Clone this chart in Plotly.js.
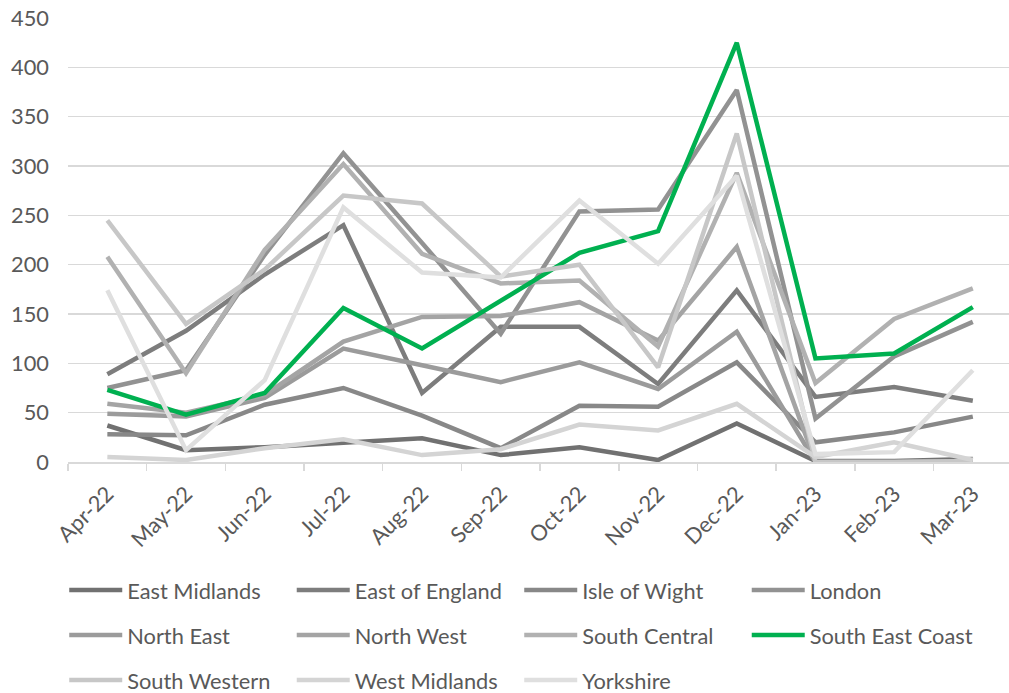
<!DOCTYPE html>
<html>
<head>
<meta charset="utf-8">
<script src="https://cdn.plot.ly/plotly-3.0.1.min.js"></script>
<style>
  html, body { margin: 0; padding: 0; background: #ffffff; }
  #chart { width: 1009px; height: 693px; }
</style>
</head>
<body>
<div id="chart"></div>
<script>
// Monthly counts per region, Apr-22 to Mar-23
const months = ["Apr-22", "May-22", "Jun-22", "Jul-22", "Aug-22", "Sep-22",
                "Oct-22", "Nov-22", "Dec-22", "Jan-23", "Feb-23", "Mar-23"];

const eastMidlands   = [37, 12, 15, 20, 24, 7, 15, 2, 39, 1, 1, 3];
const eastOfEngland  = [89, 133, 190, 240, 70, 137, 137, 79, 174, 66, 76, 62];
const isleOfWight    = [28, 27, 58, 75, 47, 14, 57, 56, 101, 20, 30, 46];
const london         = [75, 93, 210, 313, 222, 130, 254, 256, 377, 44, 107, 142];
const northEast      = [49, 46, 65, 115, 98, 81, 101, 74, 132, 0, 0, 1];
const northWest      = [59, 50, 68, 122, 147, 148, 162, 123, 218, 0, 0, 1];
const southCentral   = [208, 90, 215, 302, 211, 181, 184, 117, 293, 80, 145, 176];
const southEastCoast = [73, 48, 70, 156, 115, 163, 212, 234, 425, 105, 110, 157];
const southWestern   = [245, 140, 195, 270, 262, 188, 200, 96, 333, 0, 0, 1];
const westMidlands   = [5, 2, 14, 23, 7, 13, 38, 32, 59, 5, 20, 2];
const yorkshire      = [174, 12, 83, 258, 192, 187, 265, 201, 290, 8, 10, 93];

const regionNames = ["East Midlands", "East of England", "Isle of Wight", "London",
                     "North East", "North West", "South Central", "South East Coast",
                     "South Western", "West Midlands", "Yorkshire"];
const regionValues = [eastMidlands, eastOfEngland, isleOfWight, london,
                      northEast, northWest, southCentral, southEastCoast,
                      southWestern, westMidlands, yorkshire];

const lineColours = ["#717171", "#7d7d7d", "#888888", "#929292",
                     "#9b9b9b", "#a4a4a4", "#b1b1b1", "#00b050",
                     "#c7c7c7", "#d4d4d4", "#dfdfdf"];
// legend row for each region (four entries per row)
const legendRows = ["legend", "legend", "legend", "legend",
                    "legend2", "legend2", "legend2", "legend2",
                    "legend3", "legend3", "legend3"];

const FONT = "Lato, 'Liberation Sans', Arial, sans-serif";
const TEXT = "#595959";
const GRID = "#d9d9d9";
const FS = 21.8;

const traces = regionNames.map((name, i) => ({
  type: "scatter",
  mode: "lines",
  name: name,
  x: months,
  y: regionValues[i],
  line: { color: lineColours[i], width: 4.5 },
  legend: legendRows[i]
}));

const plotLeft = 67.6, plotBottom = 461.7, plotTop = 18;
const plotH = plotBottom - plotTop;
function rowY(py) { return (plotBottom - py) / plotH; }

function legendRow(py) {
  return {
    orientation: "h",
    x: -0.004, xanchor: "left",
    y: rowY(py), yanchor: "middle",
    bgcolor: "rgba(0,0,0,0)",
    borderwidth: 0,
    itemwidth: 53,
    entrywidth: 159.5,
    entrywidthmode: "pixels",
    font: { family: FONT, size: FS, color: TEXT }
  };
}

const layout = {
  width: 1009,
  height: 693,
  margin: { l: plotLeft, r: 0, t: plotTop, b: 693 - plotBottom, pad: 0, autoexpand: false },
  paper_bgcolor: "#ffffff",
  plot_bgcolor: "#ffffff",
  font: { family: FONT, size: FS, color: TEXT },
  showlegend: true,
  hovermode: false,
  xaxis: {
    type: "category",
    range: [-0.5, 11.46],
    tickangle: -45,
    ticks: "outside",
    tickson: "boundaries",
    ticklen: 7,
    tickwidth: 1.5,
    tickcolor: GRID,
    ticklabelstandoff: 9,
    showline: true,
    linecolor: GRID,
    linewidth: 1.5,
    showgrid: false,
    automargin: false,
    tickfont: { family: FONT, size: FS, color: TEXT }
  },
  yaxis: {
    range: [0, 450],
    dtick: 50,
    tick0: 0,
    showgrid: true,
    gridcolor: GRID,
    gridwidth: 1.5,
    zeroline: false,
    showline: false,
    ticks: "",
    ticklabelstandoff: 18,
    automargin: false,
    tickfont: { family: FONT, size: FS, color: TEXT }
  },
  legend: legendRow(590),
  legend2: legendRow(635),
  legend3: legendRow(680)
};

Plotly.newPlot("chart", traces, layout, { staticPlot: true, displayModeBar: false });
</script>
</body>
</html>
